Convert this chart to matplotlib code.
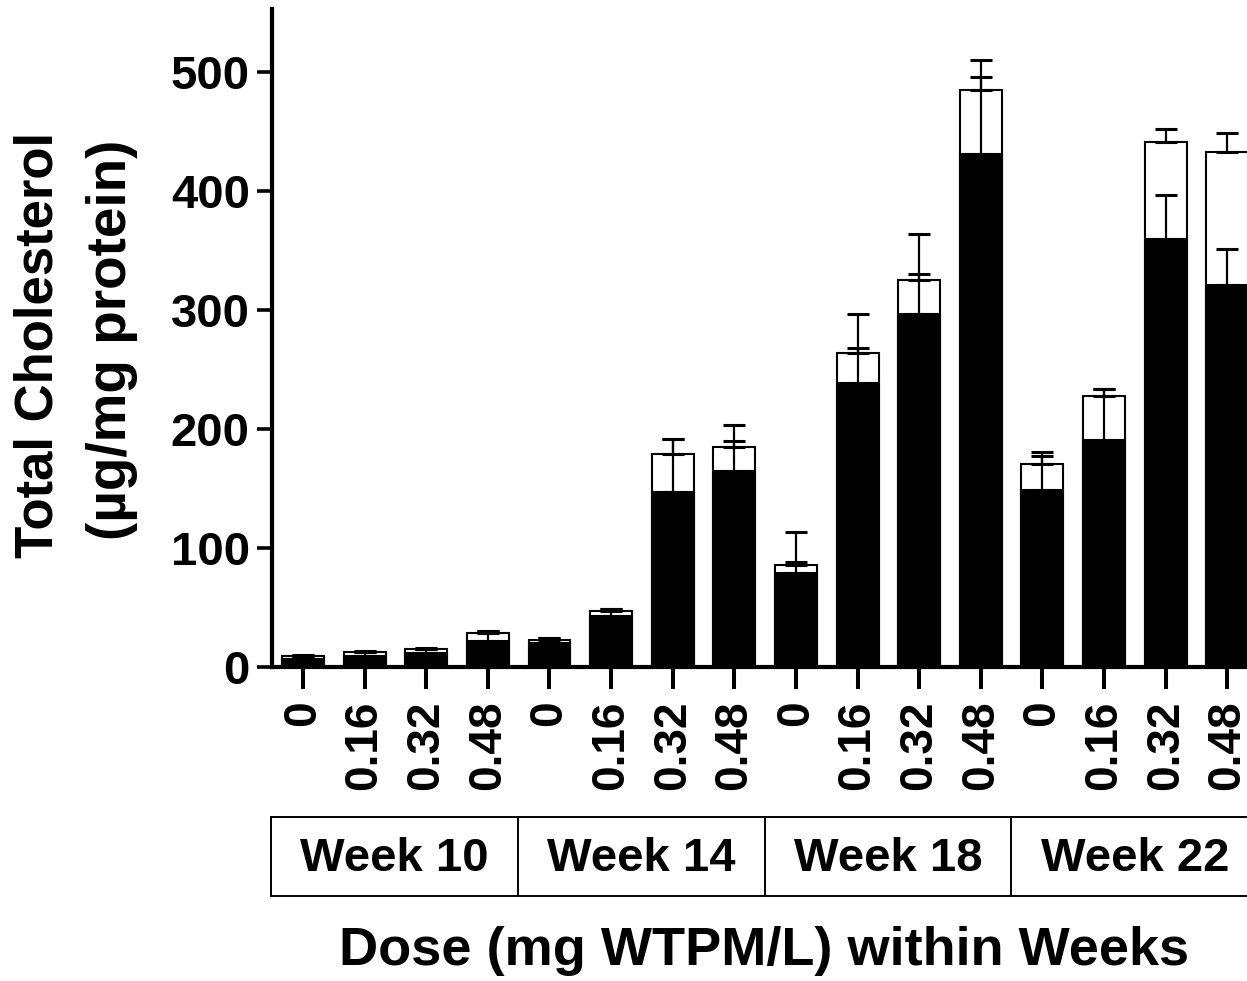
import numpy as np
import matplotlib
matplotlib.use('Agg')
import matplotlib.pyplot as plt

plt.rcParams['font.family'] = ['Liberation Sans', 'DejaVu Sans']
plt.rcParams['font.weight'] = 'bold'

# Data
weeks = ['Week 10', 'Week 14', 'Week 18', 'Week 22']
doses = ['0', '0.16', '0.32', '0.48'] * 4
total = [9.5, 12.5, 15, 28.5, 23, 47, 179, 185, 86, 264, 325, 485, 171, 228, 441, 433]
total_err = [1, 1, 0.8, 2, 1.5, 1.5, 13, 5, 2, 4, 5, 11, 6, 6, 11, 16]
black = [7, 9.5, 12, 22, 20, 43, 147, 165, 79, 239, 297, 431, 149, 191, 360, 321]
black_err = [2.5, 3, 3, 8.5, 4.5, 5.5, 45, 38.5, 34.5, 58, 67, 79, 32, 43, 37, 30]

W, H = 1247, 981
fig = plt.figure(figsize=(W/100, H/100), dpi=100)
ax = fig.add_axes([272/W, 1-667/H, 1-272/W, (667-9)/H])

X = np.arange(len(total))
bw = 0.68

# bars: total (white) behind, black part in front
ax.bar(X, total, bw, color='white', edgecolor='black', linewidth=1.5, zorder=2)
ax.bar(X, black, bw, color='black', edgecolor='black', linewidth=1.5, zorder=3)

# error bars (upper only)
z = np.zeros(len(total))
ax.errorbar(X, total, yerr=[z, total_err], fmt='none', ecolor='black',
            elinewidth=1.6, capsize=8, capthick=2.2, zorder=4)
ax.errorbar(X, black, yerr=[z, black_err], fmt='none', ecolor='black',
            elinewidth=1.6, capsize=8, capthick=2.2, zorder=4)

ax.set_xlim(-0.503, 15.32)
ax.set_ylim(0, 553)
ax.set_yticks(np.arange(0, 501, 100))
ax.set_xticks(X)
ax.set_xticklabels(doses, rotation=90, va='top', ha='center')
for s in ['top', 'right']:
    ax.spines[s].set_visible(False)
for s in ['left', 'bottom']:
    ax.spines[s].set_linewidth(3)
ax.tick_params(axis='y', length=11, width=2.6, pad=5, labelsize=34)
ax.tick_params(axis='x', length=16, width=2.9, pad=8, labelsize=33)
for lab in ax.get_xticklabels() + ax.get_yticklabels():
    lab.set_fontweight('bold')

# y label (two lines)
fig.text(39/W, 1-345/H, 'Total Cholesterol', rotation=90, ha='center',
         va='center', fontsize=38, fontweight='bold')
fig.text(112/W, 1-340/H, '(\u00b5g/mg protein)', rotation=90, ha='center',
         va='center', fontsize=39.5, fontweight='bold')

# week boxes
bx = fig.add_axes([271/W, 1-896/H, 1-271/W, (896-817)/H])
bx.set_xlim(ax.get_xlim())
bx.set_ylim(0, 1)
bx.set_xticks([])
bx.set_yticks([])
bx.spines['right'].set_visible(False)
for s in ['top', 'bottom', 'left']:
    bx.spines[s].set_linewidth(1.4)
for xd in [3.5, 7.5, 11.5]:
    bx.axvline(xd, color='black', linewidth=1.4)
for i, wk in enumerate(weeks):
    bx.text(4*i + 1.5, 0.47, wk, ha='center', va='center', fontsize=34,
            fontweight='bold')

# x label
fig.text(764/W, 1-951/H, 'Dose (mg WTPM/L) within Weeks', ha='center',
         va='center', fontsize=39, fontweight='bold')

fig.savefig('out.png', dpi=100)
